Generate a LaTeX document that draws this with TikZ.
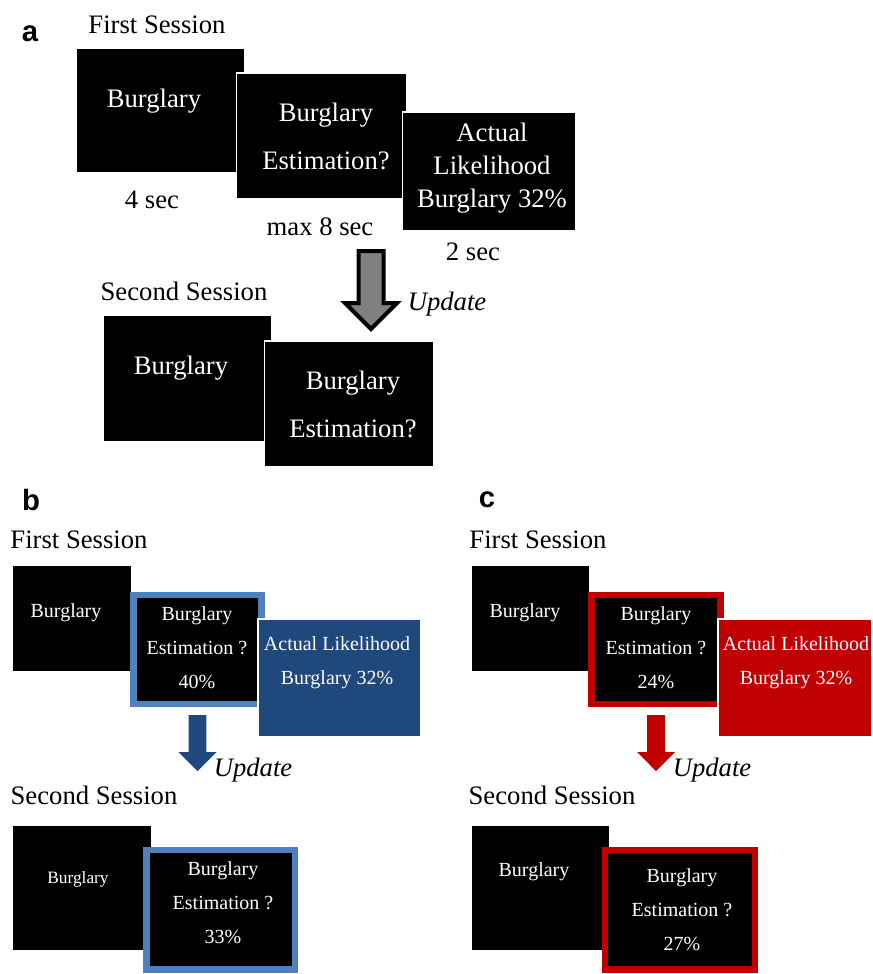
\documentclass[tikz,border=0pt]{standalone}
\usepackage{fontspec}
\setmainfont{Liberation Serif}
\newfontfamily\labelfont{Liberation Sans}
\usetikzlibrary{fit,shapes.arrows}
\definecolor{frameblue}{HTML}{4F81BD}
\definecolor{boxblue}{HTML}{1F497D}
\definecolor{boxred}{HTML}{C00000}
\definecolor{arrowgray}{HTML}{808080}

\begin{document}
\begin{tikzpicture}[
    x=0.75pt, y=-0.75pt,
    blackbox/.style={rectangle, fill=black, draw=white, line width=0.8pt, inner sep=0pt, outer sep=0pt},
    framebox/.style={blackbox, line width=4.9pt},
    screen/.style={text=white, align=center, inner sep=0pt},
    bigscreen/.style={screen, font=\fontsize{20}{36}\selectfont},
    smallscreen/.style={screen, font=\fontsize{15}{25.5}\selectfont},
    note/.style={font=\fontsize{20}{24}\selectfont, inner sep=0pt},
    update/.style={note, font=\itshape\fontsize{20}{24}\selectfont},
    panel/.style={font=\labelfont\bfseries\fontsize{22}{26}\selectfont, inner sep=0pt},
    updatearrow/.style={single arrow, rotate=-90, anchor=tail, inner xsep=0pt, outer sep=0pt,
        single arrow head indent=0pt, minimum width=0pt}
]
\useasboundingbox (0,0) rectangle (872,974);

% panel a
\node[panel] (la) at (30,34) {a};
\node[note] (fs-a) at (157,25) {First Session};
\node[blackbox, fit={(76,48) (245,173)}] (a1) {};
\node[blackbox, fit={(236.5,73) (406.5,199)}] (a2) {};
\node[blackbox, fit={(402.7,112) (576,231)}] (a3) {};
\node[bigscreen] (a1-txt) at (154,101) {Burglary};
\node[bigscreen] (a2-txt) at (326,136) {Burglary\\Estimation?};
\node[bigscreen, font=\fontsize{20}{25}\selectfont] (a3-txt) at (492,168) {Actual\\Likelihood\\Burglary 32\%};
\node[note] (t-a1) at (152,200) {4 sec};
\node[note] (t-a2) at (320,227) {max 8 sec};
\node[note] (t-a3) at (473,252) {2 sec};
\node[updatearrow, draw=black, line width=3pt, fill=arrowgray, minimum height=58.5pt,
    inner ysep=7.875pt, single arrow head extend=10.125pt] (arr-a) at (371,251) {};
\node[update] (up-a) at (447,304) {Update};
\node[note] (ss-a) at (184,291) {Second Session};
\node[blackbox, fit={(103,315) (272,442)}] (a4) {};
\node[blackbox, fit={(264.6,341) (433.5,467)}] (a5) {};
\node[bigscreen] (a4-txt) at (181,368) {Burglary};
\node[bigscreen] (a5-txt) at (353,404) {Burglary\\Estimation?};

% panel b
\node[panel] (lb) at (31,500) {b};
\node[note] (fs-b) at (79,540) {First Session};
\node[blackbox, fit={(12,565) (132,672)}] (b1) {};
\node[framebox, draw=frameblue, fit={(133.5,595) (261.5,704)}] (b2) {};
\node[blackbox, fill=boxblue, fit={(258,619) (421,737)}] (b3) {};
\node[smallscreen] (b1-txt) at (66,613) {Burglary};
\node[smallscreen] (b2-txt) at (197,648) {Burglary\\Estimation ?\\40\%};
\node[smallscreen] (b3-txt) at (337,663) {Actual Likelihood\\Burglary 32\%};
\node[updatearrow, fill=boxblue, minimum height=42pt,
    inner ysep=6.375pt, single arrow head extend=7.5pt] (arr-b) at (197.5,715) {};
\node[update] (up-b) at (253,770) {Update};
\node[note] (ss-b) at (94,795) {Second Session};
\node[blackbox, fit={(12,825) (152,951)}] (b4) {};
\node[framebox, draw=frameblue, fit={(146.5,850) (295,969.5)}] (b5) {};
\node[smallscreen, font=\fontsize{13}{16}\selectfont] (b4-txt) at (78,879) {Burglary};
\node[smallscreen] (b5-txt) at (223,903) {Burglary\\Estimation ?\\33\%};

% panel c
\node[panel] (lc) at (487,500) {c};
\node[note] (fs-c) at (538,540) {First Session};
\node[blackbox, fit={(471,565) (590,672)}] (c1) {};
\node[framebox, draw=boxred, fit={(591.5,595) (720.5,704)}] (c2) {};
\node[blackbox, fill=boxred, fit={(718,619) (872,737)}] (c3) {};
\node[smallscreen] (c1-txt) at (525,613) {Burglary};
\node[smallscreen] (c2-txt) at (656,648) {Burglary\\Estimation ?\\24\%};
\node[smallscreen] (c3-txt) at (796,663) {Actual Likelihood\\Burglary 32\%};
\node[updatearrow, fill=boxred, minimum height=42pt,
    inner ysep=6.375pt, single arrow head extend=7.5pt] (arr-c) at (656,715) {};
\node[update] (up-c) at (712,770) {Update};
\node[note] (ss-c) at (552,795) {Second Session};
\node[blackbox, fit={(471,825) (610,951)}] (c4) {};
\node[framebox, draw=boxred, fit={(605,850) (755,969.5)}] (c5) {};
\node[smallscreen] (c4-txt) at (534,872) {Burglary};
\node[smallscreen] (c5-txt) at (682,910) {Burglary\\Estimation ?\\27\%};

\end{tikzpicture}
\end{document}
